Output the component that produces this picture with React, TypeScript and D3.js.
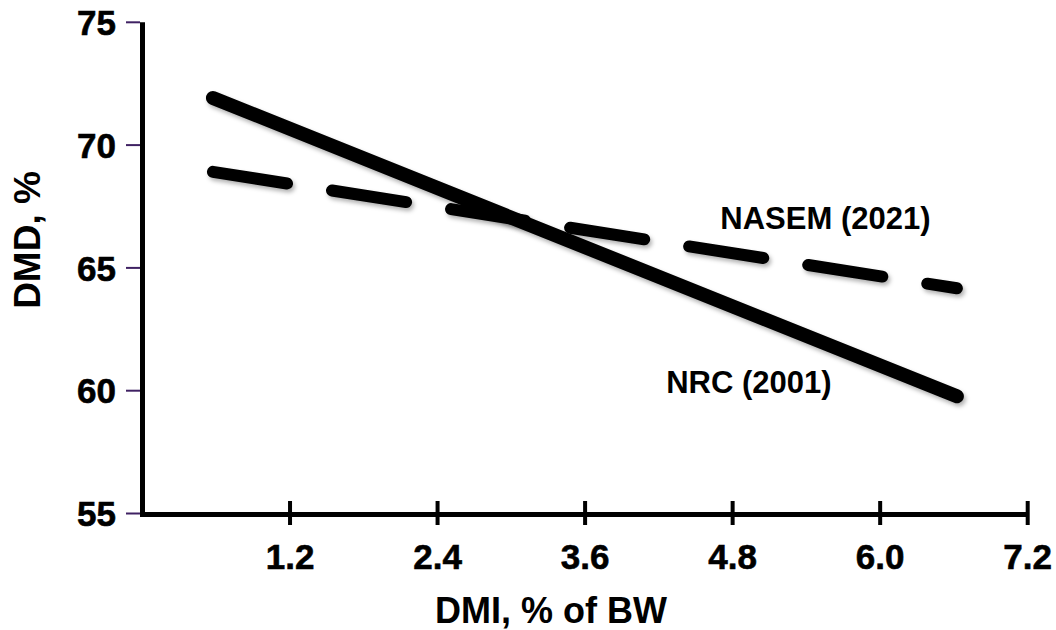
import React, { useEffect, useRef } from 'react';
import * as d3 from 'd3';

const width = 1056;
const height = 630;

// data
const xTicks = [1.2, 2.4, 3.6, 4.8, 6.0, 7.2];
const yTicks = [55, 60, 65, 70, 75];
const dmi = [0.573, 6.624];
const nrc = [71.92, 59.77];
const nasem = [68.91, 64.17];
const seriesNames = ['NRC (2001)', 'NASEM (2021)'];
const labelAt = [
  [4.26, 59.9],
  [4.7, 66.57]
];

const font = 'Arial, "Liberation Sans", Helvetica, sans-serif';

const x = d3.scaleLinear().domain([0, 7.2]).range([142.5, 1027.7]);
const y = d3.scaleLinear().domain([55, 75]).range([513.5, 22.3]);

export default function App() {
  const ref = useRef<SVGSVGElement>(null);

  useEffect(() => {
    const svg = d3.select(ref.current);
    svg.selectAll('*').remove();

    const defs = svg.append('defs');
    defs
      .append('filter')
      .attr('id', 'shadow')
      .attr('x', '-10%')
      .attr('y', '-10%')
      .attr('width', '120%')
      .attr('height', '130%')
      .append('feDropShadow')
      .attr('dx', 2)
      .attr('dy', 3)
      .attr('stdDeviation', 2)
      .attr('flood-color', '#000')
      .attr('flood-opacity', 0.3);

    // y ticks (short purple marks left of the axis)
    svg
      .append('g')
      .selectAll('line')
      .data(yTicks)
      .join('line')
      .attr('x1', 126)
      .attr('x2', 140)
      .attr('y1', d => y(d))
      .attr('y2', d => y(d))
      .attr('stroke', '#3f2163')
      .attr('stroke-width', 2);

    svg
      .append('g')
      .selectAll('text')
      .data(yTicks)
      .join('text')
      .attr('x', 116)
      .attr('y', d => y(d))
      .attr('dy', '0.36em')
      .attr('text-anchor', 'end')
      .attr('font-family', font)
      .attr('font-weight', 'bold')
      .attr('font-size', 35)
      .attr('stroke', '#000')
      .attr('stroke-width', 0.6)
      .text(d => d);

    // axes as one L shape
    svg
      .append('path')
      .attr('d', `M${x(0)},${y(75)} L${x(0)},${y(55) + 1} L${x(7.2)},${y(55) + 1}`)
      .attr('fill', 'none')
      .attr('stroke', '#000')
      .attr('stroke-width', 5);

    svg
      .append('g')
      .selectAll('line')
      .data(xTicks)
      .join('line')
      .attr('x1', d => x(d))
      .attr('x2', d => x(d))
      .attr('y1', 501)
      .attr('y2', 525)
      .attr('stroke', '#000')
      .attr('stroke-width', 4);

    svg
      .append('g')
      .selectAll('text')
      .data(xTicks)
      .join('text')
      .attr('x', d => x(d))
      .attr('y', 569)
      .attr('text-anchor', 'middle')
      .attr('font-family', font)
      .attr('font-weight', 'bold')
      .attr('font-size', 35)
      .attr('stroke', '#000')
      .attr('stroke-width', 0.6)
      .text(d => d.toFixed(1));

    // axis titles
    svg
      .append('text')
      .attr('x', 551)
      .attr('y', 623)
      .attr('text-anchor', 'middle')
      .attr('font-family', font)
      .attr('font-weight', 'bold')
      .attr('font-size', 36)
      .text('DMI, % of BW');

    svg
      .append('text')
      .attr('transform', 'translate(40,240) rotate(-90)')
      .attr('text-anchor', 'middle')
      .attr('font-family', font)
      .attr('font-weight', 'bold')
      .attr('font-size', 37)
      .text('DMD, %');

    const line = d3
      .line<number>()
      .x((d, i) => x(dmi[i]))
      .y(d => y(d));

    svg
      .append('path')
      .datum(nasem)
      .attr('d', line)
      .attr('fill', 'none')
      .attr('stroke', '#000')
      .attr('stroke-width', 12)
      .attr('stroke-linecap', 'round')
      .attr('stroke-dasharray', '75 45.5')
      .attr('filter', 'url(#shadow)');

    svg
      .append('path')
      .datum(nrc)
      .attr('d', line)
      .attr('fill', 'none')
      .attr('stroke', '#000')
      .attr('stroke-width', 14)
      .attr('stroke-linecap', 'round')
      .attr('filter', 'url(#shadow)');

    svg
      .append('g')
      .selectAll('text')
      .data(seriesNames)
      .join('text')
      .attr('x', (d, i) => x(labelAt[i][0]))
      .attr('y', (d, i) => y(labelAt[i][1]))
      .attr('font-family', font)
      .attr('font-weight', 'bold')
      .attr('font-size', 31)
      .text(d => d);
  }, []);

  return (
    <svg
      ref={ref}
      width={width}
      height={height}
      style={{ position: 'absolute', left: 0, top: 0, background: '#fff' }}
    />
  );
}
